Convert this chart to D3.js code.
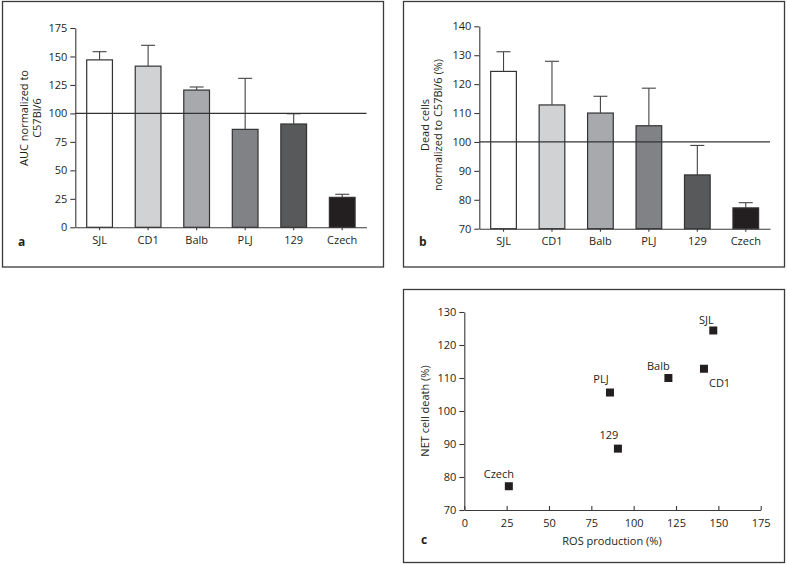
<!DOCTYPE html>
<html><head><meta charset="utf-8">
<script src="https://cdn.jsdelivr.net/npm/d3@7"></script>
<style>body{margin:0;background:#fff}svg{display:block}text{font-family:"Open Sans",sans-serif;fill:#231f20}</style>
</head><body><svg id="c" width="787" height="564"></svg>
<script>
const strains = ["SJL","CD1","Balb","PLJ","129","Czech"];
const aucMean = [147,141.5,120.5,86,90.7,26.3];
const aucErr  = [154.2,159.8,123.2,130.8,99.7,29];
const deadMean = [124.4,112.8,110,105.6,88.6,77.2];
const deadErr  = [131.2,127.9,115.8,118.6,98.8,79];
const aucTicks = [0,25,50,75,100,125,150,175];
const deadTicks = [70,80,90,100,110,120,130,140];
const rosTicks = [0,25,50,75,100,125,150,175];
const netTicks = [70,80,90,100,110,120,130];
const barColors = ["#ffffff","#d1d2d4","#a7a9ac","#808285","#58595b","#231f20"];

const svg = d3.select("#c");
const fs = 11;

function panelBorder(x,y,w,h){
  svg.append("rect").attr("x",x).attr("y",y).attr("width",w).attr("height",h)
    .attr("fill","none").attr("stroke","#3a3a3a").attr("stroke-width",1.3);
}
function styleAxis(g){
  g.selectAll("path,line").attr("stroke","#3a3a3a").attr("stroke-width",1.1);
  g.selectAll("text").style("font-family","'Open Sans',sans-serif").style("font-size",fs+"px").attr("fill","#231f20");
}

function barPanel(opt){
  const x = d3.scaleBand().domain(strains).range([opt.x0,opt.x1]).paddingInner(0.47).paddingOuter(0.235);
  const y = d3.scaleLinear().domain(opt.domain).range([opt.y0,opt.y1]);
  const g = svg.append("g");
  // bars
  g.selectAll("rect.bar").data(strains).join("rect")
    .attr("x",d=>x(d)).attr("width",x.bandwidth())
    .attr("y",(d,i)=>y(opt.mean[i])).attr("height",(d,i)=>y(opt.domain[0])-y(opt.mean[i]))
    .attr("fill",(d,i)=>barColors[i]).attr("stroke","#333").attr("stroke-width",1.2);
  // error bars
  const cap = 14;
  strains.forEach((s,i)=>{
    const cx = x(s)+x.bandwidth()/2;
    g.append("line").attr("x1",cx).attr("x2",cx).attr("y1",y(opt.mean[i])).attr("y2",y(opt.err[i])).attr("stroke","#444").attr("stroke-width",1.1);
    g.append("line").attr("x1",cx-cap/2).attr("x2",cx+cap/2).attr("y1",y(opt.err[i])).attr("y2",y(opt.err[i])).attr("stroke","#444").attr("stroke-width",1.1);
  });
  // reference line
  g.append("line").attr("x1",opt.x0).attr("x2",opt.x1).attr("y1",y(100)).attr("y2",y(100)).attr("stroke","#333").attr("stroke-width",1.2);
  // axes
  const ya = svg.append("g").attr("transform",`translate(${opt.x0},0)`)
    .call(d3.axisLeft(y).tickValues(opt.ticks).tickSize(5).tickSizeOuter(0).tickPadding(3));
  styleAxis(ya);
  const xa = svg.append("g").attr("transform",`translate(0,${opt.y0})`)
    .call(d3.axisBottom(x).tickSize(3).tickSizeOuter(0).tickPadding(6));
  styleAxis(xa);
  // y title
  const t = svg.append("text").attr("transform",`translate(${opt.titleX},${opt.titleY}) rotate(-90)`)
    .attr("text-anchor","middle").style("font-size",fs+"px");
  opt.title.forEach((line,k)=>t.append("tspan").attr("x",0).attr("dy",k===0?0:13).text(line));
  svg.append("text").attr("x",opt.labX).attr("y",opt.labY).style("font-size","12px").style("font-weight","bold").text(opt.label);
}

panelBorder(2.5,1.5,381,265.5);
panelBorder(403.5,1.5,381,265.5);
panelBorder(403.5,289.5,381,273);

barPanel({x0:75.3,x1:366.5,y0:227.3,y1:28,domain:[0,175],ticks:aucTicks,mean:aucMean,err:aucErr,
  title:["AUC normalized to","C57Bl/6"],titleX:28,titleY:118,label:"a",labX:18,labY:246});
barPanel({x0:479.3,x1:770,y0:228.7,y1:26.3,domain:[70,140],ticks:deadTicks,mean:deadMean,err:deadErr,
  title:["Dead cells","normalized to C57Bl/6 (%)"],titleX:429,titleY:125,label:"b",labX:419,labY:246});

// scatter panel c
const xs = d3.scaleLinear().domain([0,175]).range([464.3,760.7]);
const ys = d3.scaleLinear().domain([70,130]).range([510,312]);
const gc = svg.append("g");
const labelPos = {SJL:[-7,-10,"middle"],CD1:[5,14,"start"],Balb:[-10,-12,"middle"],PLJ:[-9,-13,"middle"],"129":[-9,-13,"middle"],Czech:[-10,-12,"middle"]};
strains.forEach((s,i)=>{
  const px = xs(aucMean[i]), py = ys(deadMean[i]);
  gc.append("rect").attr("x",px-4).attr("y",py-4).attr("width",8).attr("height",8).attr("fill","#231f20");
  const lp = labelPos[s];
  gc.append("text").attr("x",px+lp[0]).attr("y",py+lp[1]).attr("dy","0.35em").attr("text-anchor",lp[2]).style("font-size",fs+"px").text(s);
});
const yc = svg.append("g").attr("transform","translate(464.3,0)")
  .call(d3.axisLeft(ys).tickValues(netTicks).tickSize(5).tickSizeOuter(0).tickPadding(3));
styleAxis(yc);
const xc = svg.append("g").attr("transform","translate(0,510)")
  .call(d3.axisBottom(xs).tickValues(rosTicks).tickSize(-4).tickSizeOuter(0).tickPadding(9));
styleAxis(xc);
svg.append("text").attr("x",612).attr("y",545).attr("text-anchor","middle").style("font-size",fs+"px").text("ROS production (%)");
svg.append("text").attr("transform","translate(429,411) rotate(-90)").attr("text-anchor","middle").style("font-size",fs+"px").text("NET cell death (%)");
svg.append("text").attr("x",421).attr("y",544).style("font-size","12px").style("font-weight","bold").text("c");
</script></body></html>
